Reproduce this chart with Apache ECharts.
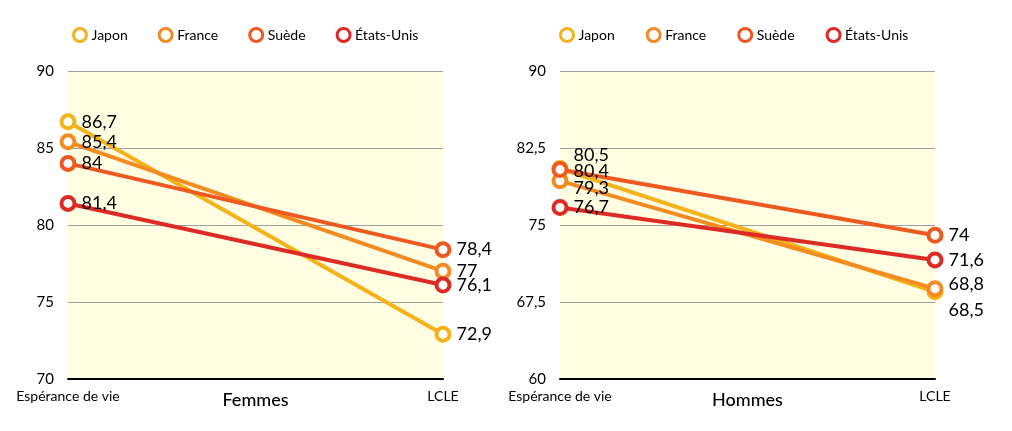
<!DOCTYPE html>
<html>
<head>
<meta charset="utf-8">
<script src="https://cdn.jsdelivr.net/npm/echarts@6/dist/echarts.min.js"></script>
<style>html,body{margin:0;padding:0;background:#fff}#c{width:1012px;height:431px}</style>
</head>
<body>
<div id="c"></div>
<script>
const categories = ['Espérance de vie', 'LCLE'];
const seriesNames = ['Japon', 'France', 'Suède', 'États-Unis'];
const femmes = {
  'Japon': [86.7, 72.9],
  'France': [85.4, 77],
  'Suède': [84, 78.4],
  'États-Unis': [81.4, 76.1]
};
const hommes = {
  'Japon': [80.5, 68.5],
  'France': [79.3, 68.8],
  'Suède': [80.4, 74],
  'États-Unis': [76.7, 71.6]
};
const panelTitles = ['Femmes', 'Hommes'];
const yRanges = [{min: 70, max: 90, interval: 5}, {min: 60, max: 90, interval: 7.5}];

// styling (not data)
const colors = {'Japon': '#F4B21B', 'France': '#F28B22', 'Suède': '#EE5921', 'États-Unis': '#DE2A25'};
const labelOffsets = {
  '1-Japon': [[0, -13], [0, 18]],
  '1-France': [[0, 7], [0, -4]],
  '1-Suède': [[0, 2], [0, 0]],
  '1-États-Unis': [[0, 0], [0, 0]]
};
const fmt = v => String(v).replace('.', ',');
const FONT = 'Lato';

const grids = [
  {left: 68, right: 569, top: 71, bottom: 52},
  {left: 560, right: 77, top: 71, bottom: 52}
];

const xAxes = grids.map((g, i) => ({
  type: 'category', gridIndex: i, data: categories, boundaryGap: false,
  axisLine: {lineStyle: {color: '#000', width: 2}},
  axisTick: {show: false},
  axisLabel: {color: '#000', fontSize: 14, fontFamily: FONT, margin: 10},
  name: panelTitles[i], nameLocation: 'middle', nameGap: 12, nameMoveOverlap: false,
  nameTextStyle: {color: '#000', fontSize: 18, fontFamily: FONT, fontWeight: 500, verticalAlign: 'top'}
}));
const yAxes = grids.map((g, i) => ({
  type: 'value', gridIndex: i, min: yRanges[i].min, max: yRanges[i].max, interval: yRanges[i].interval,
  axisLine: {show: false}, axisTick: {show: false},
  axisLabel: {color: '#000', fontSize: 15, fontFamily: FONT, margin: 14, formatter: v => fmt(v)},
  splitLine: {lineStyle: {color: '#a0a0a0', width: 1}}
}));

const series = [];
[femmes, hommes].forEach((panel, pi) => {
  seriesNames.forEach(name => {
    const offs = pi === 1 ? labelOffsets[pi + '-' + name] : null;
    series.push({
      name: name, type: 'line', xAxisIndex: pi, yAxisIndex: pi,
      data: panel[name].map((v, k) => offs ? {value: v, label: {offset: offs[k]}} : v),
      symbol: 'circle', symbolSize: 13,
      itemStyle: {color: '#fff', borderColor: colors[name], borderWidth: 4},
      lineStyle: {color: colors[name], width: 4},
      label: {show: true, position: 'right', distance: 5, color: '#000', fontSize: 18, fontFamily: FONT,
        formatter: p => fmt(p.value)},
      emphasis: {disabled: true},
      animation: false, z: 3
    });
  });
});

const legendBase = {
  data: seriesNames.map(n => ({name: n, itemStyle: {color: '#fff', borderColor: colors[n], borderWidth: 3}})),
  icon: 'circle', itemWidth: 13, itemHeight: 13, top: 22,
  textStyle: {color: '#000', fontSize: 14, fontFamily: FONT}
};

const chart = echarts.init(document.getElementById('c'), null, {renderer: 'canvas'});
chart.setOption({
  animation: false,
  backgroundColor: '#fff',
  grid: grids.map(g => Object.assign({show: true, backgroundColor: '#FFFDE2', borderWidth: 0}, g)),
  legend: [Object.assign({left: 67, itemGap: 30}, legendBase), Object.assign({left: 554, itemGap: 31}, legendBase)],
  xAxis: xAxes,
  yAxis: yAxes,
  series: series
});
</script>
</body>
</html>
